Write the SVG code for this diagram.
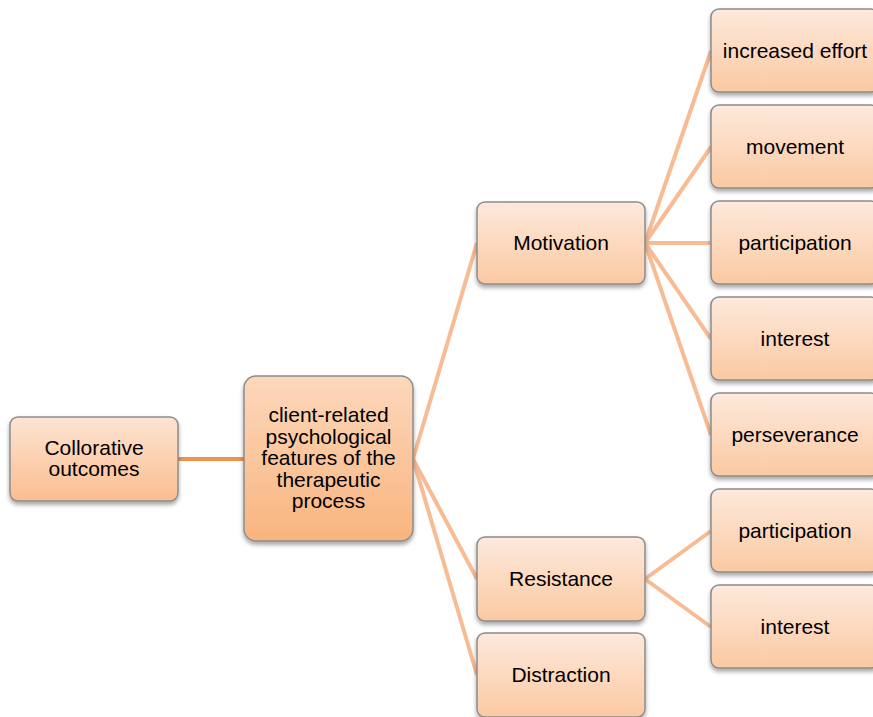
<svg xmlns="http://www.w3.org/2000/svg" width="873" height="717" viewBox="0 0 873 717">
  <defs>
    <linearGradient id="gRoot" x1="0" y1="0" x2="0" y2="1">
      <stop offset="0" stop-color="#fde4d3"/>
      <stop offset="1" stop-color="#fbbd90"/>
    </linearGradient>
    <linearGradient id="gMid" x1="0" y1="0" x2="0" y2="1">
      <stop offset="0" stop-color="#fcd8bc"/>
      <stop offset="1" stop-color="#f9b47e"/>
    </linearGradient>
    <linearGradient id="gLeaf" x1="0" y1="0" x2="0" y2="1">
      <stop offset="0" stop-color="#fde9dc"/>
      <stop offset="1" stop-color="#fbc9a2"/>
    </linearGradient>
    <filter id="shadow" x="-10%" y="-10%" width="120%" height="130%">
      <feDropShadow dx="0" dy="3" stdDeviation="2" flood-color="#000" flood-opacity="0.35"/>
    </filter>
  </defs>
  <style>
    .box { stroke: #8c8c8c; stroke-width: 1.5; filter: url(#shadow); }
    .root { fill: url(#gRoot); }
    .mid { fill: url(#gMid); }
    .leaf { fill: url(#gLeaf); }
    .lbl { font-family: "Liberation Sans", Arial, sans-serif; font-size: 21px; fill: #000; text-anchor: middle; }
    .link { stroke: #f8bc94; stroke-width: 4; fill: none; }
    .link-main { stroke: #f0934f; stroke-width: 4; fill: none; }
  </style>

  <rect width="873" height="717" fill="#ffffff"/>

  <!-- connectors -->
  <g id="connectors">
    <line class="link-main" x1="178" y1="459" x2="244" y2="459"/>
    <line class="link" x1="413" y1="459" x2="477" y2="243"/>
    <line class="link" x1="413" y1="459" x2="477" y2="579"/>
    <line class="link" x1="413" y1="459" x2="477" y2="675"/>
    <line class="link" x1="645" y1="243" x2="711" y2="51"/>
    <line class="link" x1="645" y1="243" x2="711" y2="147"/>
    <line class="link" x1="645" y1="243" x2="711" y2="243"/>
    <line class="link" x1="645" y1="243" x2="711" y2="339"/>
    <line class="link" x1="645" y1="243" x2="711" y2="435"/>
    <line class="link" x1="645" y1="579" x2="711" y2="531"/>
    <line class="link" x1="645" y1="579" x2="711" y2="627"/>
  </g>

  <!-- root -->
  <g id="node-outcomes">
    <rect class="box root" x="10" y="417" width="168" height="84" rx="8"/>
    <text class="lbl" x="94" y="455">Collorative</text>
    <text class="lbl" x="94" y="476">outcomes</text>
  </g>

  <g id="node-features">
    <rect class="box mid" x="244" y="376" width="169" height="165" rx="12"/>
    <text class="lbl" x="328.5" y="422">client-related</text>
    <text class="lbl" x="328.5" y="443.5">psychological</text>
    <text class="lbl" x="328.5" y="465">features of the</text>
    <text class="lbl" x="328.5" y="486.5">therapeutic</text>
    <text class="lbl" x="328.5" y="508">process</text>
  </g>

  <!-- second level -->
  <g id="node-motivation">
    <rect class="box leaf" x="477" y="202" width="168" height="82" rx="8"/>
    <text class="lbl" x="561" y="250">Motivation</text>
  </g>
  <g id="node-resistance">
    <rect class="box leaf" x="477" y="537" width="168" height="84" rx="8"/>
    <text class="lbl" x="561" y="586">Resistance</text>
  </g>
  <g id="node-distraction">
    <rect class="box leaf" x="477" y="633" width="168" height="84" rx="8"/>
    <text class="lbl" x="561" y="682">Distraction</text>
  </g>

  <!-- third level -->
  <g id="node-effort">
    <rect class="box leaf" x="711" y="9" width="168" height="83" rx="8"/>
    <text class="lbl" x="795" y="58">increased effort</text>
  </g>
  <g id="node-movement">
    <rect class="box leaf" x="711" y="105" width="168" height="83" rx="8"/>
    <text class="lbl" x="795" y="154">movement</text>
  </g>
  <g id="node-participation-m">
    <rect class="box leaf" x="711" y="201" width="168" height="83" rx="8"/>
    <text class="lbl" x="795" y="250">participation</text>
  </g>
  <g id="node-interest-m">
    <rect class="box leaf" x="711" y="297" width="168" height="83" rx="8"/>
    <text class="lbl" x="795" y="346">interest</text>
  </g>
  <g id="node-perseverance">
    <rect class="box leaf" x="711" y="393" width="168" height="83" rx="8"/>
    <text class="lbl" x="795" y="442">perseverance</text>
  </g>
  <g id="node-participation-r">
    <rect class="box leaf" x="711" y="489" width="168" height="83" rx="8"/>
    <text class="lbl" x="795" y="538">participation</text>
  </g>
  <g id="node-interest-r">
    <rect class="box leaf" x="711" y="585" width="168" height="83" rx="8"/>
    <text class="lbl" x="795" y="634">interest</text>
  </g>
</svg>
